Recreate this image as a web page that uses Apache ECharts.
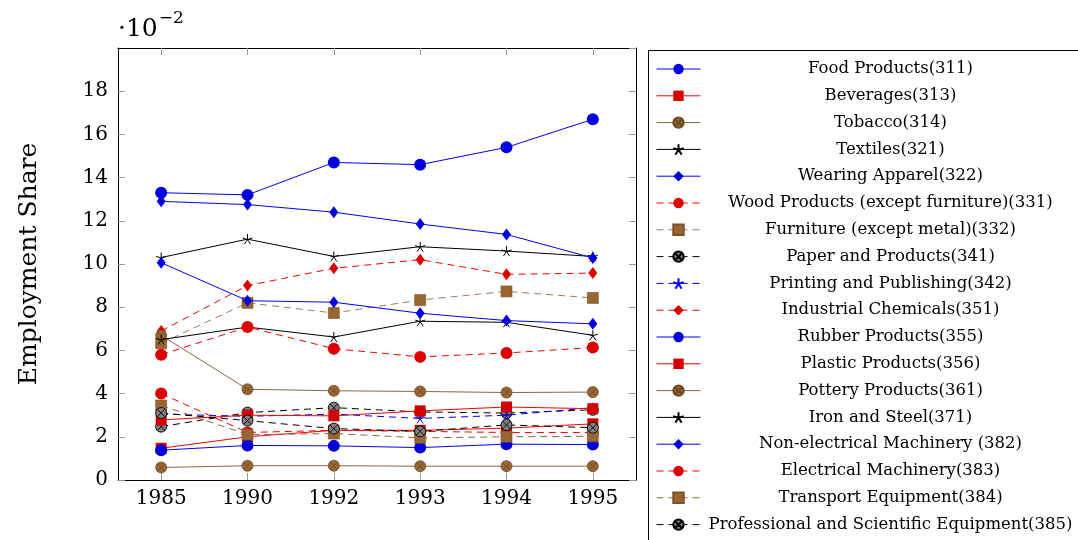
<!DOCTYPE html>
<html>
<head>
<meta charset="utf-8">
<script src="https://cdn.jsdelivr.net/npm/echarts@6/dist/echarts.min.js"></script>
<style>
html,body{margin:0;padding:0;background:#fff;}
#chart{width:1078px;height:540px;}
</style>
</head>
<body>
<div id="chart"></div>
<script>
// Values in units of 10^-2
const years = ['1985', '1990', '1992', '1993', '1994', '1995'];
const yTicks = [0, 2, 4, 6, 8, 10, 12, 14, 16, 18];

const food       = [13.3, 13.2, 14.7, 14.6, 15.4, 16.7];
const beverages  = [1.47, 2.0, 2.3, 2.3, 2.4, 2.6];
const tobacco    = [0.58, 0.66, 0.66, 0.64, 0.64, 0.64];
const textiles   = [10.3, 11.15, 10.35, 10.8, 10.6, 10.35];
const wearing    = [12.9, 12.75, 12.4, 11.85, 11.37, 10.28];
const wood       = [4.0, 2.2, 2.3, 2.25, 2.2, 2.2];
const furniture  = [6.33, 8.2, 7.73, 8.33, 8.73, 8.43];
const paper      = [2.47, 3.12, 3.35, 3.15, 3.1, 3.25];
const printing   = [3.05, 2.95, 3.05, 2.85, 3.0, 3.35];
const chemicals  = [6.9, 9.0, 9.8, 10.2, 9.52, 9.58];
const rubber     = [1.38, 1.6, 1.58, 1.5, 1.66, 1.64];
const plastic    = [2.78, 3.0, 2.97, 3.2, 3.38, 3.3];
const pottery    = [6.7, 4.2, 4.13, 4.1, 4.05, 4.07];
const iron       = [6.5, 7.08, 6.62, 7.35, 7.3, 6.7];
const nonelec    = [10.06, 8.3, 8.23, 7.72, 7.38, 7.23];
const electrical = [5.8, 7.08, 6.08, 5.7, 5.88, 6.13];
const transport  = [3.45, 2.1, 2.15, 1.95, 2.0, 2.02];
const professional = [3.1, 2.75, 2.38, 2.25, 2.55, 2.42];

const names = [
  'Food Products(311)', 'Beverages(313)', 'Tobacco(314)', 'Textiles(321)',
  'Wearing Apparel(322)', 'Wood Products (except furniture)(331)',
  'Furniture (except metal)(332)', 'Paper and Products(341)',
  'Printing and Publishing(342)', 'Industrial Chemicals(351)',
  'Rubber Products(355)', 'Plastic Products(356)', 'Pottery Products(361)',
  'Iron and Steel(371)', 'Non-electrical Machinery (382)',
  'Electrical Machinery(383)', 'Transport Equipment(384)',
  'Professional and Scientific Equipment(385)'
];
const values = [food, beverages, tobacco, textiles, wearing, wood, furniture, paper,
  printing, chemicals, rubber, plastic, pottery, iron, nonelec, electrical, transport, professional];

const OTIMES = 'path://M -5 0 A 5 5 0 1 0 5 0 A 5 5 0 1 0 -5 0 Z M -3.54 -3.54 L 3.54 3.54 M -3.54 3.54 L 3.54 -3.54';
const STAR = 'path://M 0 0 L 0 -5 M 0 0 L 4.76 -1.55 M 0 0 L 2.94 4.05 M 0 0 L -2.94 4.05 M 0 0 L -4.76 -1.55';

const BLUE = '#0000ff', RED = '#ff0000', BROWN = '#8b6640', BLACK = '#000000';
const mk = {
  blueCircle:  {symbol: 'circle', size: 12, fill: '#0000dd', border: '#0000dd', bw: 0},
  redSquare:   {symbol: 'rect', size: 11, fill: '#d40000', border: '#d40000', bw: 0},
  brownOtimes: {symbol: OTIMES, size: 11, fill: '#996633', border: '#6b4a26', bw: 0.8},
  blackStar:   {symbol: STAR, size: 10, fill: BLACK, border: BLACK, bw: 1},
  blueDiamond: {symbol: 'diamond', size: [9, 12], fill: '#0000dd', border: '#0000dd', bw: 0},
  redCircle:   {symbol: 'circle', size: 12, fill: '#dd0000', border: '#dd0000', bw: 0},
  brownSquare: {symbol: 'rect', size: 11, fill: '#996633', border: '#7a5229', bw: 0.6},
  grayOtimes:  {symbol: OTIMES, size: 11, fill: '#808080', border: '#000000', bw: 0.9},
  blueStar:    {symbol: STAR, size: 10, fill: BLUE, border: BLUE, bw: 1},
  redDiamond:  {symbol: 'diamond', size: [9, 12], fill: '#dd0000', border: '#dd0000', bw: 0}
};
const styles = [
  [BLUE, 'solid', mk.blueCircle],
  [RED, 'solid', mk.redSquare],
  [BROWN, 'solid', mk.brownOtimes],
  [BLACK, 'solid', mk.blackStar],
  [BLUE, 'solid', mk.blueDiamond],
  [RED, 'dashed', mk.redCircle],
  ['#9c7d5e', 'dashed', mk.brownSquare],
  [BLACK, 'dashed', mk.grayOtimes],
  [BLUE, 'dashed', mk.blueStar],
  [RED, 'dashed', mk.redDiamond],
  [BLUE, 'solid', mk.blueCircle],
  [RED, 'solid', mk.redSquare],
  [BROWN, 'solid', mk.brownOtimes],
  [BLACK, 'solid', mk.blackStar],
  [BLUE, 'solid', mk.blueDiamond],
  [RED, 'dashed', mk.redCircle],
  [BROWN, 'dashed', mk.brownSquare],
  [BLACK, 'dashed', mk.grayOtimes]
];

const FONT = 'DejaVu Serif';

const series = names.map((n, i) => {
  const [lc, lt, m] = styles[i];
  return {
    name: n,
    type: 'line',
    data: values[i],
    xAxisIndex: 0,
    yAxisIndex: 0,
    symbol: m.symbol,
    symbolSize: m.size,
    showSymbol: true,
    showAllSymbol: true,
    z: 2 + i * 0.01,
    lineStyle: {color: lc, width: 1, type: lt === 'dashed' ? [7, 5] : 'solid'},
    itemStyle: {color: m.fill, borderColor: m.border, borderWidth: m.bw},
    emphasis: {disabled: true}
  };
});

const chart = echarts.init(document.getElementById('chart'), null, {renderer: 'canvas'});
const tickStyle = {show: true, inside: true, length: 7, lineStyle: {color: '#999', width: 1}};
chart.setOption({
  animation: false,
  backgroundColor: '#fff',
  grid: {left: 118, top: 48, width: 518, height: 432, containLabel: false},
  xAxis: [
    {
      type: 'category', data: years, position: 'bottom',
      boundaryGap: true,
      axisLine: {show: true, onZero: false, lineStyle: {color: '#000', width: 1}},
      axisTick: Object.assign({alignWithLabel: true}, tickStyle),
      axisLabel: {color: '#000', fontFamily: FONT, fontSize: 20, margin: 9},
      splitLine: {show: false}
    },
    {
      type: 'category', data: years, position: 'top',
      boundaryGap: true,
      axisLine: {show: true, onZero: false, lineStyle: {color: '#000', width: 1}},
      axisTick: Object.assign({alignWithLabel: true}, tickStyle),
      axisLabel: {show: false},
      splitLine: {show: false}
    }
  ],
  yAxis: [
    {
      type: 'value', min: 0, max: 20, interval: 2, position: 'left',
      axisLine: {show: true, lineStyle: {color: '#000', width: 1}},
      axisTick: tickStyle,
      axisLabel: {
        color: '#000', fontFamily: FONT, fontSize: 20, margin: 10,
        showMaxLabel: false,
        formatter: v => (yTicks.indexOf(v) >= 0 ? String(v) : '')
      },
      splitLine: {show: false},
      name: 'Employment Share',
      nameLocation: 'middle',
      nameGap: 76,
      nameRotate: 90,
      nameTextStyle: {color: '#000', fontFamily: FONT, fontSize: 25}
    },
    {
      type: 'value', min: 0, max: 20, interval: 2, position: 'right',
      axisLine: {show: true, lineStyle: {color: '#000', width: 1}},
      axisTick: tickStyle,
      axisLabel: {show: false},
      splitLine: {show: false}
    }
  ],
  legend: {
    orient: 'vertical',
    left: 656,
    top: 60.5,
    height: 479,
    padding: 0,
    itemWidth: 44,
    itemHeight: 13,
    itemGap: 9.8,
    selectedMode: false,
    data: names,
    lineStyle: {width: 1},
    formatter: n => '{c|' + n + '}',
    textStyle: {
      color: '#000', fontFamily: FONT, fontSize: 16.5,
      rich: {c: {width: 370, align: 'center', fontFamily: FONT, fontSize: 16.5, lineHeight: 16, color: '#000'}}
    }
  },
  graphic: [
    {
      type: 'rect', left: 646, top: 48, silent: true,
      shape: {x: 0, y: 0, width: 440, height: 500},
      style: {fill: 'none', stroke: '#000', lineWidth: 1}
    },
    {
      type: 'text', left: 118, top: 10, silent: true,
      style: {
        text: '{a|·10}{b|−2}',
        rich: {
          a: {fontFamily: FONT, fontSize: 25, color: '#000', verticalAlign: 'bottom', lineHeight: 32},
          b: {fontFamily: FONT, fontSize: 17, color: '#000', verticalAlign: 'top', lineHeight: 32, padding: [0, 0, 14, 1]}
        }
      }
    }
  ],
  series: series
});
</script>
</body>
</html>
